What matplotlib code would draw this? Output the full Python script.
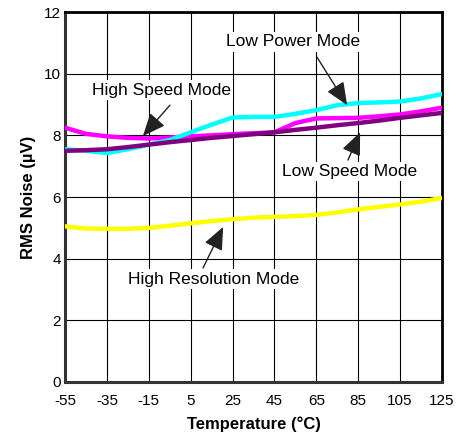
import matplotlib
matplotlib.use("Agg")
import matplotlib.pyplot as plt

plt.rcParams['font.family'] = ['Liberation Sans', 'DejaVu Sans']
plt.rcParams['axes.unicode_minus'] = False

temp = [-55, -45, -35, -25, -15, -5, 5, 15, 25, 35, 45, 55, 65, 75, 85, 95, 105, 115, 125]
low_power = [7.55, 7.5, 7.43, 7.55, 7.7, 7.85, 8.1, 8.35, 8.58, 8.6, 8.6, 8.7, 8.82, 8.98, 9.05, 9.07, 9.1, 9.2, 9.34]
high_speed = [8.25, 8.05, 7.97, 7.92, 7.9, 7.93, 7.97, 8.0, 8.04, 8.07, 8.1, 8.4, 8.55, 8.56, 8.57, 8.62, 8.68, 8.78, 8.9]
low_speed = [7.5, 7.52, 7.55, 7.62, 7.7, 7.78, 7.85, 7.92, 7.98, 8.04, 8.1, 8.18, 8.25, 8.33, 8.4, 8.48, 8.57, 8.65, 8.73]
high_res = [5.05, 4.98, 4.97, 4.97, 5.0, 5.07, 5.15, 5.22, 5.28, 5.33, 5.36, 5.38, 5.42, 5.5, 5.6, 5.68, 5.76, 5.85, 5.97]

xticks = list(range(-55, 126, 20))
yticks = list(range(0, 13, 2))

# label text, text centre, arrow start, arrow tip (data units)
notes = [
    ('Low Power Mode', (53.9, 11.03), (65.3, 10.54), (79.7, 8.98)),
    ('High Speed Mode', (-8.9, 9.47), (-4.9, 8.98), (-17.8, 7.98)),
    ('Low Speed Mode', (81.1, 6.84), (80.1, 7.2), (85.9, 8.1)),
    ('High Resolution Mode', (16.2, 3.34), (10.9, 3.7), (20.5, 5.03)),
]

fig = plt.figure(figsize=(4.62, 4.43), dpi=100)
ax = fig.add_axes([0.1407, 0.1377, 0.816, 0.835])

ax.plot(temp, high_res, color='#FFFF00', lw=3.2, zorder=3)
ax.plot(temp, high_speed, color='#FF00FF', lw=3.2, zorder=3)
ax.plot(temp, low_power, color='#00FFFF', lw=3.2, zorder=4)
ax.plot(temp, low_speed, color='#800080', lw=3.2, zorder=5)

ax.set_xlim(-55, 125)
ax.set_ylim(0, 12)
ax.set_xticks(xticks)
ax.set_yticks(yticks)
ax.grid(True, color='black', lw=0.8)
ax.tick_params(length=0, labelsize=11)
ax.tick_params(axis='x', pad=9)
ax.tick_params(axis='y', pad=3)

for s in ['left', 'bottom']:
    ax.spines[s].set_color('#333333')
    ax.spines[s].set_linewidth(2.2)
for s in ['right', 'top']:
    ax.spines[s].set_color('black')
    ax.spines[s].set_linewidth(2)

ax.set_xlabel('Temperature (°C)', fontsize=12, fontweight='bold', labelpad=6)
ax.set_ylabel('RMS Noise (µV)', fontsize=12, fontweight='bold', labelpad=6)

for label, pos, start, tip in notes:
    ax.text(pos[0], pos[1], label, fontsize=12.5, ha='center', va='center', zorder=6,
            bbox=dict(facecolor='white', edgecolor='none', pad=1.5))
    ax.annotate('', xy=tip, xytext=start, zorder=7,
                arrowprops=dict(arrowstyle='-|>,head_length=0.7,head_width=0.3',
                                color='#222222', lw=1, mutation_scale=20,
                                shrinkA=0, shrinkB=0))

fig.savefig('out.png', dpi=100)
